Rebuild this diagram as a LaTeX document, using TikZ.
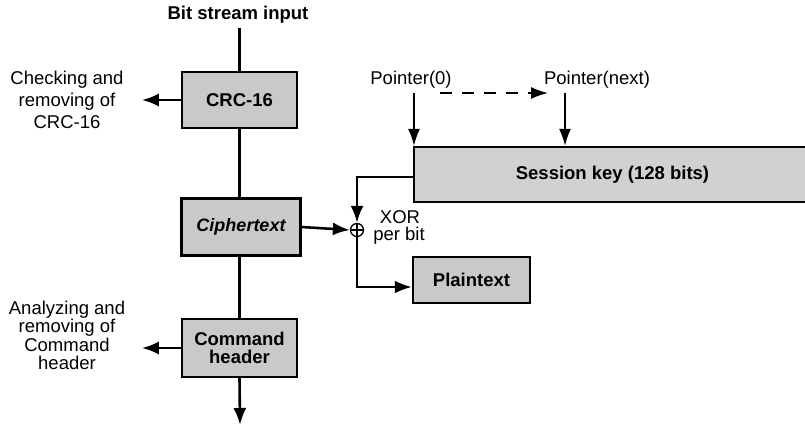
\documentclass[tikz,border=0pt]{standalone}
\usepackage{fontspec}
\setmainfont{Liberation Sans}
\usetikzlibrary{arrows.meta}
\begin{document}
\begin{tikzpicture}[x=1pt,y=-1pt,
  every node/.style={font=\fontsize{18.5}{20}\selectfont, inner sep=0pt},
  blk/.style={draw, line width=2.4pt, fill=gray!42, align=center},
  conn/.style={line width=2.6pt},
  arr/.style={line width=2.6pt, -{Latex[length=17pt,width=13pt]}},
  thinarr/.style={line width=1.6pt, -{Latex[length=17pt,width=12pt]}}]
\useasboundingbox (0,0) rectangle (805,426);
% text labels
\node[font=\fontsize{18.5}{20}\selectfont\bfseries] (input) at (238,15) {Bit stream input};
\node[align=center, font=\fontsize{18.5}{22}\selectfont] (crclab) at (67,100) {Checking and\\removing of\\CRC-16};
\node[align=center, font=\fontsize{18.5}{18.3}\selectfont] (cmdlab) at (67,335.5) {Analyzing and\\removing of\\Command\\header};
% boxes
\node[blk, minimum width=115pt, minimum height=56pt, font=\fontsize{18.5}{20}\selectfont\bfseries] (crc) at (239.5,100) {CRC-16};
\node[blk, minimum width=119pt, minimum height=57pt, font=\fontsize{18}{20}\selectfont\bfseries\itshape] (cipher) at (241,227) {Ciphertext};
\node[blk, minimum width=115pt, minimum height=58pt, font=\fontsize{18.5}{18}\selectfont\bfseries] (cmd) at (239.5,348) {Command\\header};
\node[blk, minimum width=117pt, minimum height=46pt, font=\fontsize{18.5}{20}\selectfont\bfseries] (plain) at (471.5,280) {Plaintext};
\node[blk, fill=gray!36, minimum width=397pt, minimum height=55pt, font=\fontsize{18.5}{20}\selectfont\bfseries] (key) at (612.5,174.5) {Session key (128 bits)};
% xor
\node[draw, circle, line width=1.3pt, minimum size=13pt] (xor) at (357,230) {};
\draw[line width=1.3pt] (xor.north) -- (xor.south) (xor.west) -- (xor.east);
\node (xorlab) at (400,217) {XOR};
\node (perbit) at (399,236) {per bit};
% pointers
\node (p0) at (411,80) {Pointer(0)};
\node (pn) at (597,80) {Pointer(next)};
\coordinate (p0a) at (414,93);
\coordinate (pna) at (565,93);
\coordinate (dsh1) at (440,93);
\coordinate (dsh2) at (548,93);
\coordinate (outend) at (240,425);
% connectors
\draw[conn] (input.south -| crc.north) ++(0,4) -- (crc.north);
\draw[conn] (crc.south) -- (crc.south |- cipher.north);
\draw[conn] (crc.south |- cipher.south) -- (crc.south |- cmd.north);
\draw[arr] (crc.west) -- ++(-39,0);
\draw[arr] (cmd.west) -- ++(-39,0);
\draw[arr] (cmd.south) -- (outend);
\draw[arr] (cipher.east) -- (xor.west);
\draw[arr] (key.west |- 0,177) -| (xor.north);
\draw[arr] (xor.south) |- (plain.west |- 0,287);
\draw[thinarr] (p0a) -- (p0a |- key.north);
\draw[thinarr] (pna) -- (pna |- key.north);
\draw[thinarr, dash pattern=on 12pt off 10pt] (dsh1) -- (dsh2);
\end{tikzpicture}
\end{document}
